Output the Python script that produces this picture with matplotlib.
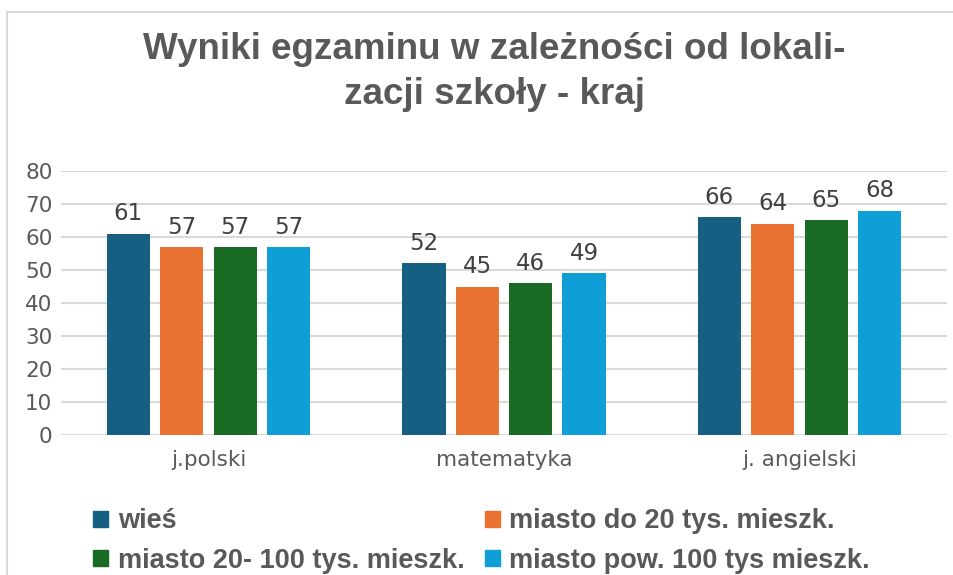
import numpy as np
import matplotlib.pyplot as plt
from matplotlib.patches import Rectangle, Patch

# dane z wykresu
przedmioty = ['j.polski', 'matematyka', 'j. angielski']
serie = ['wieś', 'miasto do 20 tys. mieszk.', 'miasto 20- 100 tys. mieszk.', 'miasto pow. 100 tys mieszk.']
wies = [61, 52, 66]
miasto_do20 = [57, 45, 64]
miasto_20_100 = [57, 46, 65]
miasto_pow100 = [57, 49, 68]
kolory = ['#156082', '#E97132', '#196B24', '#0F9ED5']

W, H = 954, 575
fig = plt.figure(figsize=(W / 100, H / 100), dpi=100)

# ramka wykresu
fig.patches.append(Rectangle((7.5 / W, -0.1), 1.2, 1 - 12 / H + 0.1, transform=fig.transFigure,
                             fill=False, edgecolor='#d9d9d9', lw=1.5))

ax = fig.add_axes([60.75 / W, 1 - 435 / H, (947.25 - 60.75) / W, (435 - 171) / H])

x = np.arange(len(przedmioty))
szer = 0.1466
krok = 0.1807
dane = [wies, miasto_do20, miasto_20_100, miasto_pow100]
for i, (vals, kol, nazwa) in enumerate(zip(dane, kolory, serie)):
    pos = x + (i - 1.5) * krok
    ax.bar(pos, vals, szer, color=kol, label=nazwa, zorder=3)
    for p, v in zip(pos, vals):
        ax.annotate(str(v), (p, v), xytext=(0, 6), textcoords='offset points',
                    ha='center', va='bottom', fontsize=16.5, color='#404040')

ax.set_xlim(-0.5, 2.5)
ax.set_ylim(0, 80)
ax.set_yticks(range(0, 81, 10))
ax.yaxis.grid(True, color='#d9d9d9', lw=1.5, zorder=0)
ax.set_axisbelow(True)
for s in ax.spines.values():
    s.set_visible(False)
ax.tick_params(length=0, labelsize=15.5, labelcolor='#595959')
ax.tick_params(axis='x', pad=11)
ax.tick_params(axis='y', pad=6)
ax.set_xticks(x)
ax.set_xticklabels(przedmioty)

fig.text(494 / W, 1 - 72 / H, 'Wyniki egzaminu w zależności od lokali-\nzacji szkoły - kraj',
         ha='center', va='center', fontsize=26.5, fontweight='bold', color='#595959',
         family='Liberation Sans', linespacing=1.4)

# legenda wierszami
kol_h = [Patch(color=c) for c in kolory]
kolejnosc = [0, 2, 1, 3]
leg = fig.legend([kol_h[i] for i in kolejnosc], [serie[i] for i in kolejnosc],
                 ncol=2, loc='upper left', bbox_to_anchor=(69 / W, 1 - 484 / H),
                 frameon=False, handlelength=0.55, handleheight=0.55, handletextpad=0.35,
                 columnspacing=0.75, labelspacing=0.5,
                 prop={'family': 'Liberation Sans', 'weight': 'bold', 'size': 19.5})
for t in leg.get_texts():
    t.set_color('#595959')

fig.savefig('out.png', dpi=100)
